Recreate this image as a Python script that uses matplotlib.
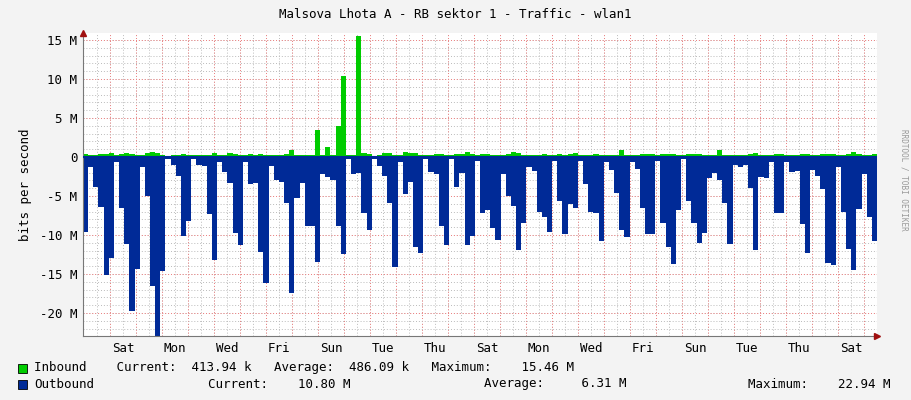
import numpy as np
import matplotlib
matplotlib.use("Agg")
import matplotlib.pyplot as plt
from matplotlib.ticker import FuncFormatter

outbound = [-9.6,-1.3,-3.8,-6.4,-15.1,-12.9,-0.6,-6.5,-11.2,-19.7,-14.3,-1.3,-5.0,-16.5,-22.94,-14.6,-0.2,-1.0,-2.4,-10.1,
            -8.2,-0.3,-1.0,-1.1,-7.3,-13.2,-0.6,-1.9,-3.3,-9.8,-11.3,-0.7,-3.5,-3.3,-12.2,-16.2,-1.1,-3.0,-3.2,-5.9,
            -17.4,-5.3,-3.3,-8.9,-8.9,-13.4,-2.2,-2.5,-3.0,-8.8,-12.5,-0.3,
            -2.2,-2.1,-7.2,-9.4,-0.2,-1.1,-2.4,-5.9,-14.1,-0.6,-4.8,-3.2,-11.5,-12.3,-0.3,-1.9,-2.2,-8.8,-11.3,-0.3,
            -3.8,-2.1,-11.3,-10.1,-0.5,-7.2,-6.8,-9.1,-10.7,-2.2,-5.0,-6.3,-11.9,-8.5,-1.3,-1.8,-7.0,-7.7,-9.6,-0.5,
            -5.6,-9.9,-6.0,-6.6,-0.5,-3.4,-7.1,-7.2,-10.8,-0.6,
            -1.7,-4.6,-9.4,-10.2,-0.7,-1.5,-6.5,-9.9,-9.9,-0.5,-8.4,-11.6,-13.7,-6.8,-0.3,-5.7,-8.5,-11.0,-9.8,-2.7,
            -2.1,-3.0,-5.9,-11.2,-1.0,-1.3,-1.0,-4.0,-11.9,-2.5,-2.7,-0.7,-7.2,-7.2,-0.6,-1.9,-1.8,-8.6,-12.3,-1.7,
            -2.4,-4.1,-13.6,-13.9,-1.3,-7.1,-11.8,-14.5,-6.7,-2.2,-7.7,-10.8]
inbound = [0.4,0.2,0.3,0.4,0.4,0.5,0.2,0.4,0.5,0.4,0.3,0.2,0.5,0.7,0.5,0.2,0.1,0.2,0.3,0.4,
           0.3,0.2,0.2,0.3,0.3,0.5,0.2,0.3,0.5,0.4,0.3,0.2,0.4,0.3,0.4,0.3,0.2,0.3,0.3,0.4,
           0.9,0.3,0.3,0.3,0.3,3.5,0.3,1.3,0.3,4.0,10.4,0.3,
           0.3,15.46,0.5,0.4,0.1,0.3,0.5,0.5,0.2,0.3,0.6,0.5,0.5,0.2,0.2,0.3,0.4,0.4,0.2,0.3,
           0.4,0.4,0.6,0.4,0.3,0.4,0.4,0.3,0.3,0.2,0.4,0.6,0.5,0.3,0.2,0.3,0.3,0.4,0.3,0.2,
           0.4,0.3,0.4,0.5,0.2,0.3,0.3,0.4,0.3,0.2,
           0.3,0.3,0.9,0.3,0.2,0.3,0.4,0.4,0.4,0.2,0.4,0.4,0.4,0.3,0.2,0.4,0.4,0.4,0.3,0.2,
           0.3,0.9,0.3,0.3,0.2,0.2,0.3,0.4,0.5,0.2,0.3,0.3,0.4,0.4,0.3,0.3,0.3,0.4,0.4,0.2,
           0.3,0.4,0.4,0.4,0.2,0.3,0.4,0.6,0.4,0.2,0.3,0.4]
day_labels = ["Sat","Mon","Wed","Fri","Sun","Tue","Thu","Sat","Mon","Wed","Fri","Sun","Tue","Thu","Sat"]

span_days = 30.54
first_midnight = 1.04
n = len(outbound)
edges = np.linspace(0, span_days, n + 1)

fig = plt.figure(figsize=(9.11, 4.0), dpi=100, facecolor="#f3f3f3")
ax = fig.add_axes([83/911, 1-336/400, (877-83)/911, (336-33)/400])
ax.set_facecolor("white")
ox = np.repeat(edges, 2)[1:-1]
ax.fill_between(ox, 0, np.repeat(outbound, 2), color="#002a97", lw=0, zorder=2)
ax.fill_between(ox, 0, np.repeat(inbound, 2), color="#00cc00", lw=0, zorder=2)
ax.axhline(0, color="#002a97", lw=1.5, zorder=3)

ax.set_xlim(0, span_days)
ax.set_ylim(-22.95, 15.9)
mid = np.arange(first_midnight, span_days, 1.0)
half = np.arange(first_midnight - 0.5, span_days, 0.5)
for v in half:
    ax.axvline(v, color="#bbbbbb", lw=0.7, ls=(0, (1, 2)), zorder=1)
for v in mid:
    ax.axvline(v, color="#f08080", lw=0.7, ls=(0, (1, 2)), zorder=1)
for v in np.arange(-22, 16, 1):
    ax.axhline(v, color="#bbbbbb", lw=0.7, ls=(0, (1, 2)), zorder=1)
for v in np.arange(-20, 16, 5):
    ax.axhline(v, color="#f08080", lw=0.7, ls=(0, (1, 2)), zorder=1)

ax.set_xticks([first_midnight + 2*i + 0.5 for i in range(len(day_labels))])
ax.set_xticklabels(day_labels)
ax.set_yticks(np.arange(-20, 16, 5))
ax.yaxis.set_major_formatter(FuncFormatter(lambda v, p: f"{int(v)} M" if v != 0 else "0"))
ax.tick_params(length=0, labelsize=9, pad=4)
for lab in ax.get_xticklabels() + ax.get_yticklabels():
    lab.set_family("DejaVu Sans Mono")
for s in ["top", "right"]:
    ax.spines[s].set_visible(False)
ax.spines["left"].set_color("#777777")
ax.spines["bottom"].set_color("#777777")
ax.plot(1, 0, ">", color="#a01010", ms=4, transform=ax.transAxes, clip_on=False, zorder=5)
ax.plot(0, 1, "^", color="#a01010", ms=4, transform=ax.transAxes, clip_on=False, zorder=5)
ax.set_ylabel("bits per second", family="DejaVu Sans Mono", fontsize=9, labelpad=6)

mono = dict(family="DejaVu Sans Mono", fontsize=9)
fig.text(0.5, 1-14/400, "Malsova Lhota A - RB sektor 1 - Traffic - wlan1", ha="center", va="center", **mono)
fig.text(904/911, 0.5+0.05, "RRDTOOL / TOBI OETIKER", rotation=270, ha="center", va="center",
         family="DejaVu Sans Mono", fontsize=5.5, color="#999999")
fig.patches.append(plt.Rectangle((18/911, 1-373/400), 9/911, 9/400, transform=fig.transFigure,
                                 facecolor="#00cc00", edgecolor="black", lw=0.6))
fig.patches.append(plt.Rectangle((18/911, 1-389/400), 9/911, 9/400, transform=fig.transFigure,
                                 facecolor="#002a97", edgecolor="black", lw=0.6))
fig.text(34/911, 1-368/400, "Inbound    Current:  413.94 k   Average:  486.09 k   Maximum:    15.46 M", va="center", **mono)
fig.text(34/911, 1-384/400, "Outbound", va="center", **mono)
fig.text(208/911, 1-384/400, "Current:    10.80 M", va="center", **mono)
fig.text(484/911, 1-384/400, "Average:     6.31 M", va="center", **mono)
fig.text(748/911, 1-384/400, "Maximum:    22.94 M", va="center", **mono)

fig.savefig("out.png", dpi=100, facecolor=fig.get_facecolor())
